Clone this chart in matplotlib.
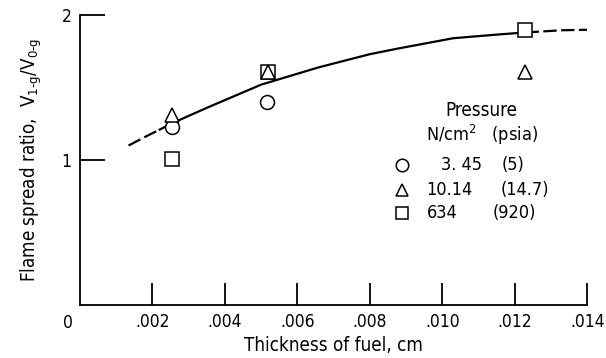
import matplotlib
matplotlib.use('Agg')
import matplotlib.pyplot as plt

plt.rcParams['font.family'] = ['DejaVu Sans']
plt.rcParams['font.stretch'] = 'condensed'
plt.rcParams['mathtext.default'] = 'regular'

# data
thick_circle = [0.00255, 0.00515]
ratio_circle = [1.23, 1.40]
thick_tri = [0.00255, 0.00518, 0.01228]
ratio_tri = [1.31, 1.61, 1.61]
thick_sq = [0.00255, 0.00518, 0.01228]
ratio_sq = [1.01, 1.61, 1.90]

# faired curve: dashed start, solid middle, dashed end
curve_start_x = [0.00134, 0.0018, 0.0022]
curve_start_y = [1.10, 1.16, 1.21]
curve_mid_x = [0.0022, 0.0026, 0.0035, 0.0050, 0.0066, 0.0080, 0.0088, 0.0103, 0.0115, 0.0123]
curve_mid_y = [1.21, 1.26, 1.36, 1.52, 1.64, 1.73, 1.77, 1.84, 1.865, 1.88]
curve_end_x = [0.0123, 0.0133, 0.0143]
curve_end_y = [1.88, 1.895, 1.90]

xticks = [0.002, 0.004, 0.006, 0.008, 0.010, 0.012, 0.014]
xtick_labels = ['.002', '.004', '.006', '.008', '.010', '.012', '.014']
yticks = [1, 2]

legend_markers = ['o', '^', 's']
legend_numbers = ['3. 45', '10.14', '634']
legend_psia = ['(5)', '(14.7)', '(920)']

fig = plt.figure(figsize=(6.06, 3.58), dpi=100)
ax = fig.add_axes([0.132, 0.148, 0.837, 0.81])

mk = dict(mfc='white', mec='black', mew=1.1, ms=10, ls='none', zorder=3)
ax.plot(curve_start_x, curve_start_y, color='black', lw=1.6, dashes=(6, 2))
ax.plot(curve_mid_x, curve_mid_y, color='black', lw=1.6)
ax.plot(curve_end_x, curve_end_y, color='black', lw=1.6, dashes=(6, 2))
ax.plot(thick_circle, ratio_circle, marker='o', **mk)
ax.plot(thick_sq, ratio_sq, marker='s', **mk)
ax.plot(thick_tri, ratio_tri, marker='^', **mk)

ax.set_xlim(0, 0.014)
ax.set_ylim(0, 2)
for s in ['top', 'right']:
    ax.spines[s].set_visible(False)
for s in ['left', 'bottom']:
    ax.spines[s].set_linewidth(1.3)

ax.set_xticks(xticks)
ax.set_xticklabels(xtick_labels)
ax.set_yticks(yticks)
ax.tick_params(axis='x', direction='in', length=16, width=1.3, labelsize=12.5, pad=6)
ax.tick_params(axis='y', direction='in', length=18, width=1.3, labelsize=12.5, pad=6)
ax.annotate('0', xy=(0, 0), xycoords='data', xytext=(-12, -18),
            textcoords='offset pixels', ha='center', va='center', fontsize=12.5)

ax.set_xlabel('Thickness of fuel, cm', fontsize=13.5, labelpad=3)
ax.set_ylabel('Flame spread ratio,  $V_{1\\text{-}g}/V_{0\\text{-}g}$', fontsize=13.5, labelpad=13)

# legend block
ax.text(0.01109, 1.345, 'Pressure', ha='center', va='center', fontsize=13.5)
ax.text(0.01110, 1.17, 'N/cm$^2$   (psia)', ha='center', va='center', fontsize=13)
rows_y = [0.966, 0.793, 0.634]
num_x = [0.00996, 0.00957, 0.00957]
psia_x = [0.01165, 0.01160, 0.01140]
for m, n, p, y, nx, px in zip(legend_markers, legend_numbers, legend_psia, rows_y, num_x, psia_x):
    ax.plot([0.00888], [y], marker=m, mfc='white', mec='black', mew=1.1, ms=9, ls='none')
    ax.text(nx, y, n, ha='left', va='center', fontsize=13)
    ax.text(px, y, p, ha='left', va='center', fontsize=13)

fig.savefig('out.png', dpi=100)
